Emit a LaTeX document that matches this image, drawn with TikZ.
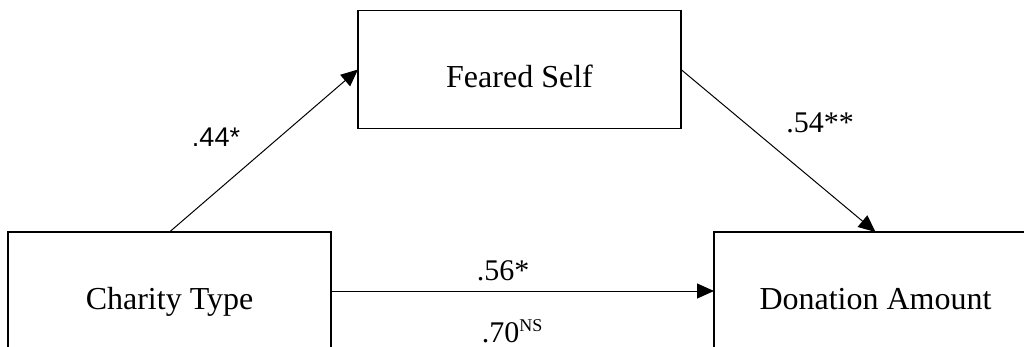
\documentclass[tikz,border=0pt]{standalone}
\usepackage{fontspec}
\setmainfont{Liberation Serif}
\newfontfamily\arialfont{Liberation Sans}
\usetikzlibrary{arrows.meta}
\tikzset{
  box/.style={draw, line width=1.2pt, minimum width=323pt, minimum height=118pt, inner sep=0pt, outer sep=0pt},
  boxtext/.style={anchor=base, font=\fontsize{32}{38}\selectfont, inner sep=0pt},
  lab/.style={anchor=base, font=\fontsize{30}{36}\selectfont, inner sep=0pt},
  arr/.style={line width=1pt, -{Triangle[length=17pt,width=15pt]}}
}
\begin{document}
\begin{tikzpicture}[x=1pt,y=-1pt]
\useasboundingbox (0,0) rectangle (1024,347);
\clip (0,0) rectangle (1024,347);
\node[box] (fs) at (519.5,69.5) {};
\node[box] (ct) at (169.5,291) {};
\node[box] (da) at (875.5,291) {};
\node[boxtext] (fst) at (519.5,88) {Feared Self};
\node[boxtext] (ctt) at (169.5,309) {Charity Type};
\node[boxtext] (dat) at (875.5,309) {Donation Amount};
\draw[arr] (ct.north) -- (fs.west);
\draw[arr] (fs.east) -- (da.north);
\draw[arr] (ct.east) -- (da.west);
\node[lab, font=\arialfont\fontsize{27}{32}\selectfont] (l44) at (216,147) {.44*};
\node[lab] (l54) at (820,133) {.54**};
\node[lab] (l56) at (503,280) {.56*};
\node[lab] (l70) at (512,342) {.70\raisebox{11pt}{\fontsize{18}{18}\selectfont NS}};
\end{tikzpicture}
\end{document}
